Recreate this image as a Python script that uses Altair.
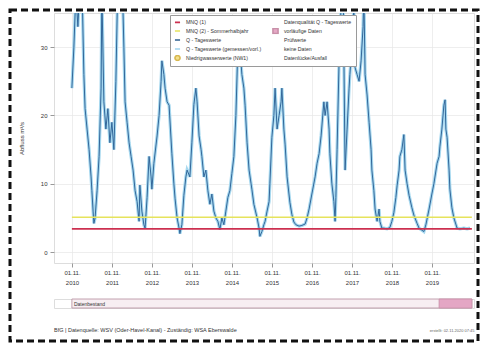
import altair as alt
import pandas as pd

# ---- data (decimal years, discharge m3/s) ----
t_years = [2010.83, 2010.88, 2010.93, 2010.98, 2011.03, 2011.08, 2011.13, 2011.16, 2011.21, 2011.26,
           2011.31, 2011.33, 2011.36, 2011.38, 2011.41, 2011.46, 2011.51, 2011.56, 2011.58, 2011.63,
           2011.68, 2011.73, 2011.78, 2011.83, 2011.88, 2011.93, 2011.98, 2012.03, 2012.08, 2012.13,
           2012.16, 2012.21, 2012.26, 2012.31, 2012.36, 2012.41, 2012.46, 2012.51, 2012.53, 2012.58,
           2012.63, 2012.66, 2012.71, 2012.76, 2012.81, 2012.83, 2012.88, 2012.96, 2013.01, 2013.06,
           2013.08, 2013.13, 2013.16, 2013.21, 2013.26, 2013.33, 2013.38, 2013.41, 2013.46, 2013.51,
           2013.53, 2013.58, 2013.63, 2013.68, 2013.71, 2013.78, 2013.83, 2013.88, 2013.93, 2013.96,
           2014.01, 2014.06, 2014.08, 2014.13, 2014.18, 2014.23, 2014.28, 2014.33, 2014.38, 2014.43,
           2014.48, 2014.53, 2014.58, 2014.63, 2014.68, 2014.73, 2014.78, 2014.83, 2014.88, 2014.93,
           2014.98, 2015.01, 2015.03, 2015.08, 2015.13, 2015.16, 2015.21, 2015.26, 2015.31, 2015.33,
           2015.38, 2015.46, 2015.51, 2015.53, 2015.58, 2015.63, 2015.66, 2015.71, 2015.76, 2015.78,
           2015.83, 2015.88, 2015.91, 2015.96, 2016.01, 2016.06, 2016.08, 2016.13, 2016.16, 2016.21,
           2016.28, 2016.33, 2016.38, 2016.43, 2016.51, 2016.58, 2016.66, 2016.71, 2016.76, 2016.83,
           2016.91, 2016.96, 2017.01, 2017.06, 2017.13, 2017.16, 2017.21, 2017.26, 2017.28, 2017.33,
           2017.38, 2017.41, 2017.43, 2017.46, 2017.51, 2017.56, 2017.61, 2017.66, 2017.71, 2017.76,
           2017.78, 2017.83, 2017.88, 2017.91, 2017.96, 2018.01, 2018.06, 2018.11, 2018.13, 2018.16,
           2018.21, 2018.26, 2018.31, 2018.33, 2018.38, 2018.41, 2018.46, 2018.51, 2018.53, 2018.58,
           2018.63, 2018.71, 2018.78, 2018.83, 2018.88, 2018.93, 2018.96, 2019.01, 2019.03, 2019.08,
           2019.13, 2019.16, 2019.21, 2019.26, 2019.33, 2019.38, 2019.46, 2019.51, 2019.58, 2019.63,
           2019.68, 2019.76, 2019.83, 2019.88, 2019.96, 2020.01, 2020.03, 2020.08, 2020.13, 2020.16,
           2020.18, 2020.21, 2020.26, 2020.28, 2020.33, 2020.38, 2020.46, 2020.53, 2020.63, 2020.71,
           2020.78]
q_values = [24, 30, 38, 33, 39, 40, 26, 21, 18, 15,
            11, 9, 6, 4.2, 5, 9, 14, 24, 38, 22,
            18, 21, 16, 19, 15, 25, 40, 36, 42, 30,
            22, 19, 16, 14, 12, 9, 7.4, 4.5, 9.8, 6,
            4, 3.5, 8, 14, 11, 9.2, 13, 17, 20, 25,
            28, 26, 24, 22, 21.5, 14.4, 10, 7.8, 5, 3.5,
            2.7, 4, 8.3, 11, 12, 11, 16, 21.6, 24, 22,
            17, 15, 14, 11, 12, 9, 7, 8.5, 6, 5,
            4.5, 3.3, 5, 4, 6, 8, 9, 11.5, 14, 20,
            30, 32, 30, 26, 24, 21.5, 16, 12, 10, 9.2,
            7, 5, 3.5, 2.3, 3, 4, 4.5, 6, 7.4, 10,
            16.8, 20, 24, 18, 20, 22, 24, 18, 15.8, 11,
            7.3, 5.5, 4.4, 4, 3.8, 3.9, 4.1, 5, 6.3, 8.5,
            11, 13, 14.4, 17, 22, 20, 22, 18, 14.4, 10,
            7.4, 4.5, 8, 15, 28, 36, 40, 12, 18, 24,
            26, 30, 36, 27, 26, 25, 28, 33, 38, 26,
            23, 19, 15, 12, 9, 6.3, 4.5, 6.3, 4.5, 3.5,
            3.5, 3.4, 3.6, 4.5, 5.8, 8, 9.7, 12, 14, 15,
            17.2, 12, 10, 8.3, 6.5, 5.4, 4.2, 3.5, 3.2, 3,
            4, 6.3, 8.5, 10, 13, 14, 15.4, 18, 21.5, 22.3,
            18, 16.8, 12, 9.2, 6.5, 5, 3.5, 3.4, 3.5, 3.4,
            3.5]

threshold_names = ["MNQ (1)", "MNQ (2) - Sommerhalbjahr"]
threshold_values = [3.4, 5.1]
threshold_colors = ["#cc3050", "#e6e35c"]
series_start = 2010.83
series_end = 2020.83
prelim_start = 2020.01

tick_values = [2010.833, 2011.833, 2012.833, 2013.833, 2014.833,
               2015.833, 2016.833, 2017.833, 2018.833, 2019.833]
y_ticks = [0, 5, 10, 15, 20, 25, 30, 35]

# legend entries, column by column (left column first, then right column)
legend_entries = ["MNQ (1)", "MNQ (2) - Sommerhalbjahr", "Q - Tageswerte",
                  "Q - Tageswerte (gemessen/vorl.)", "Niedrigwasserwerte (NW1)",
                  "Datenqualität Q - Tageswerte", "vorläufige Daten", "Prüfwerte",
                  "keine Daten", "Datenlücke/Ausfall"]
legend_stroke = ["#cc3050", "#e6e35c", "#2e5f8f", "#9fd3ee", "#d8b850",
                 "transparent", "#c890a8", "transparent", "transparent", "transparent"]
legend_fill = ["transparent", "transparent", "transparent", "transparent", "#f4e08a",
               "transparent", "#e6a8c6", "transparent", "transparent", "transparent"]
legend_shape = ["stroke", "stroke", "stroke", "stroke", "circle",
                "square", "square", "square", "square", "square"]

footer_left = "BfG | Datenquelle: WSV (Oder-Havel-Kanal) - Zuständig: WSA Eberswalde"
footer_right = "erstellt: 02.11.2020 07:45"
bar_label = "Datenbestand"

# ---- tables ----
df = pd.DataFrame({"t": t_years, "q": q_values})
thr = pd.DataFrame({"name": threshold_names, "q": threshold_values,
                    "t0": [series_start] * 2, "t1": [series_end] * 2})
leg = pd.DataFrame({"entry": legend_entries})
bars = pd.DataFrame({"t0": [series_start, prelim_start], "t1": [series_end, series_end],
                     "kind": ["gesamt", "vorläufig"]})
lab = pd.DataFrame({"t": [series_start], "txt": [bar_label]})

W, H = 420, 250
xdom = [2010.383, 2020.883]
xscale = alt.Scale(domain=xdom, nice=False, zero=False)
yscale = alt.Scale(domain=[-1.6, 35], nice=False, zero=False)

x_axis = alt.Axis(values=tick_values, labelExpr="['01.11.', toString(floor(datum.value))]",
                  title=None, grid=True, gridColor="#e6e6e6", gridWidth=0.7, domain=False,
                  tickSize=4, tickColor="#999", labelFontSize=6, labelColor="#333",
                  labelPadding=2, labelLineHeight=10, labelFont="Liberation Sans")
y_axis = alt.Axis(values=y_ticks, title="Abfluss m³/s", grid=True, gridColor="#e6e6e6",
                  gridWidth=0.7, domain=False, tickSize=4, tickColor="#999",
                  labelFontSize=6, labelColor="#333", labelPadding=3, titleFontSize=6,
                  titleFontWeight="normal", titleColor="#333", titlePadding=16,
                  labelFont="Liberation Sans", titleFont="Liberation Sans")

envelope = alt.Chart(df).mark_line(color="#a6d8ef", strokeWidth=3.2, clip=True).encode(
    x=alt.X("t:Q", scale=xscale, axis=x_axis),
    y=alt.Y("q:Q", scale=yscale, axis=y_axis),
)
line = alt.Chart(df).mark_line(color="#33679a", strokeWidth=1.0, clip=True).encode(
    x=alt.X("t:Q", scale=xscale),
    y=alt.Y("q:Q", scale=yscale),
)
rules = alt.Chart(thr).mark_rule(strokeWidth=1.6).encode(
    x=alt.X("t0:Q", scale=xscale),
    x2="t1:Q",
    y=alt.Y("q:Q", scale=yscale),
    color=alt.Color("name:N", scale=alt.Scale(domain=threshold_names, range=threshold_colors),
                    legend=None),
)

legend_obj = alt.Legend(orient="none", legendX=116, legendY=2, columns=2, title=None,
                        fillColor="white", strokeColor="#9a9a9a", padding=4,
                        labelFontSize=5.2, labelColor="#333", labelFont="Liberation Sans",
                        symbolSize=26, symbolStrokeWidth=1.6, rowPadding=2, clipHeight=6,
                        columnPadding=10, labelLimit=140, symbolOpacity=1, labelOffset=5)
legend_layer = alt.Chart(leg).mark_point(filled=True, opacity=0).encode(
    x=alt.value(0), y=alt.value(0),
    fill=alt.Fill("entry:N", scale=alt.Scale(domain=legend_entries, range=legend_fill),
                  legend=legend_obj),
    stroke=alt.Stroke("entry:N", scale=alt.Scale(domain=legend_entries, range=legend_stroke),
                      legend=legend_obj),
    shape=alt.Shape("entry:N", scale=alt.Scale(domain=legend_entries, range=legend_shape),
                    legend=legend_obj),
)

frame = alt.Chart(pd.DataFrame({"a": [0]})).mark_rect(
    fillOpacity=0, stroke="#111", strokeWidth=3, strokeDash=[7, 4]
).encode(x=alt.value(-44), x2=alt.value(424), y=alt.value(-3), y2=alt.value(328))

main = alt.layer(envelope, line, rules, legend_layer, frame).resolve_scale(
    fill="independent", stroke="independent", shape="independent"
).properties(width=W, height=H)

bar_axis = alt.Axis(labels=False, ticks=False, domain=False, grid=False, title=footer_right,
                    titleFontSize=4, titleColor="#666", titleFontWeight="normal",
                    titleAnchor="end", titlePadding=20)
bar_bg = alt.Chart(bars).mark_rect(strokeWidth=0.8).encode(
    x=alt.X("t0:Q", scale=xscale, axis=bar_axis),
    x2="t1:Q",
    fill=alt.Fill("kind:N", scale=alt.Scale(domain=["gesamt", "vorläufig"],
                                            range=["#f7eef2", "#e4a6c4"]), legend=None),
    stroke=alt.Stroke("kind:N", scale=alt.Scale(domain=["gesamt", "vorläufig"],
                                                range=["#b48c9c", "#c890a8"]), legend=None),
)
bar_text = alt.Chart(lab).mark_text(align="left", baseline="middle", dx=2, fontSize=5,
                                    color="#333", font="Liberation Sans").encode(
    x=alt.X("t:Q", scale=xscale), text="txt:N", y=alt.value(4.5)
)
bar = alt.layer(bar_bg, bar_text).properties(
    width=W, height=9,
    title=alt.TitleParams(footer_left, orient="bottom", anchor="start", fontSize=5.5,
                          fontWeight="normal", color="#333", font="Liberation Sans",
                          offset=4, dy=-8)
)

chart = alt.vconcat(main, bar, spacing=36, bounds="flush").properties(
    padding={"left": 0, "top": 0, "right": 0, "bottom": 0}
).configure_view(stroke="#a0a0a0", strokeWidth=1).configure(background="white")

chart.save("out.html", embed_options={"renderer": "svg", "actions": False})
